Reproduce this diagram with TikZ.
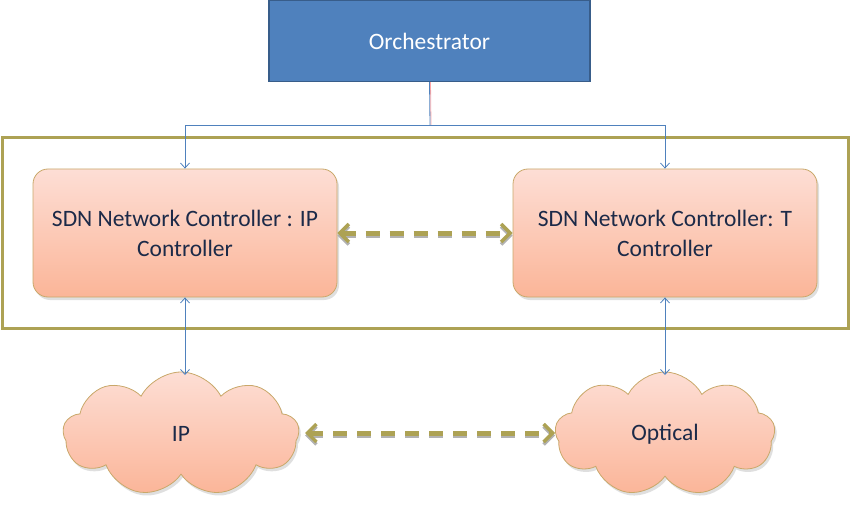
\documentclass[tikz,border=0pt]{standalone}
\usepackage{fontspec}
\setmainfont{Carlito}
\usetikzlibrary{shapes.symbols,arrows.meta,shadows}
\definecolor{orchfill}{HTML}{4F81BD}
\definecolor{orchline}{HTML}{385D8A}
\definecolor{olive}{HTML}{ADA254}
\definecolor{peachtop}{HTML}{FDDED5}
\definecolor{peachbot}{HTML}{FBB598}
\definecolor{peachline}{HTML}{C9A86A}
\definecolor{txt}{HTML}{1C2A48}
\definecolor{linkblue}{HTML}{4F81BD}
\tikzset{
  x=1pt, y=-1pt,
  ctrlbox/.style={draw=peachline, line width=0.8pt, rounded corners=15pt,
    top color=peachtop, bottom color=peachbot, minimum width=304pt, minimum height=128pt,
    text=txt, align=center, font=\fontsize{23.5}{30}\selectfont,
    drop shadow={shadow xshift=2pt, shadow yshift=-3pt, fill=black!25}},
  netcloud/.style={cloud, cloud puffs=9, cloud puff arc=125, aspect=1.8, draw=peachline, line width=0.8pt,
    top color=peachtop, bottom color=peachbot, minimum width=236pt, minimum height=124pt,
    text=txt, font=\fontsize{23.5}{28}\selectfont, inner sep=0pt,
    drop shadow={shadow xshift=2pt, shadow yshift=-3pt, fill=black!25}},
  bluelink/.style={draw=linkblue, line width=0.8pt},
  olivedash/.style={draw=olive, line width=5pt, dash pattern=on 14pt off 10pt,
    {Straight Barb[length=9pt,width=18pt,line width=3.5pt]}-{Straight Barb[length=9pt,width=18pt,line width=3.5pt]}},
}
\begin{document}
\begin{tikzpicture}
\useasboundingbox (0,0) rectangle (851,505);
% frame
\node[draw=olive, line width=3pt, minimum width=846pt, minimum height=191pt, inner sep=0pt] (frame) at (425.5,233) {};
% orchestrator
\node[draw=orchline, line width=1.2pt, fill=orchfill, minimum width=321pt, minimum height=81pt,
  text=white, font=\fontsize{23.5}{28}\selectfont] (orch) at (429.5,41) {Orchestrator};
% controllers
\node[ctrlbox] (ipc) at (185,233) {SDN Network Controller : IP\\Controller};
\node[ctrlbox] (tc) at (665,233) {SDN Network Controller: T\\Controller};
% clouds
\node[netcloud] (ipn) at (181,434) {IP};
\node[netcloud, minimum width=220pt] (opn) at (665,434) {Optical};
% orchestrator links
\coordinate (j) at (430,125);
\draw[draw=red!35, line width=0.8pt] ([xshift=1pt]orch.south) -- ([xshift=1pt]j);
\draw[bluelink] (orch.south) -- (j);
\draw[bluelink, -{Straight Barb[length=5pt,width=9pt]}] (j) -| (ipc.north);
\draw[bluelink, -{Straight Barb[length=5pt,width=9pt]}] (j) -| (tc.north);
% controller-network links
\coordinate (ipt) at (185,375);
\coordinate (opt) at (665,375);
\draw[bluelink, {Straight Barb[length=5pt,width=9pt]}-{Straight Barb[length=5pt,width=9pt]}] (ipc.south) -- (ipt);
\draw[bluelink, {Straight Barb[length=5pt,width=9pt]}-{Straight Barb[length=5pt,width=9pt]}] (tc.south) -- (opt);
% dashed double arrows (shadow then arrow)
\draw[olivedash, draw=black!30, transform canvas={yshift=-2.5pt}] (ipc.east) -- (tc.west);
\draw[olivedash] (ipc.east) -- (tc.west);
\coordinate (ipe) at (305,433);
\coordinate (opw) at (555,433);
\draw[olivedash, draw=black!30, transform canvas={yshift=-2.5pt}] (ipe) -- (opw);
\draw[olivedash] (ipe) -- (opw);
\end{tikzpicture}
\end{document}
